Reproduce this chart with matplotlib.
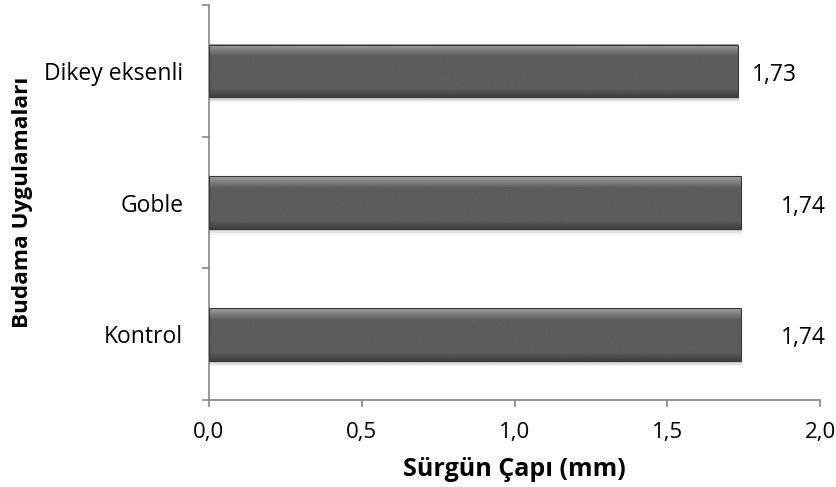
import numpy as np
import matplotlib.pyplot as plt
from matplotlib.colors import LinearSegmentedColormap

plt.rcParams['font.family'] = ['Open Sans', 'DejaVu Sans']

kategoriler = ['Kontrol', 'Goble', 'Dikey eksenli']
degerler = [1.74, 1.74, 1.73]
etiketler = ['1,74', '1,74', '1,73']
etiket_kayma = [40, 40, 14]  # piksel, etiketlerin çubuk ucundan uzaklığı
xticks = [0.0, 0.5, 1.0, 1.5, 2.0]
xtick_labels = ['0,0', '0,5', '1,0', '1,5', '2,0']

fig = plt.figure(figsize=(8.37, 4.87), dpi=100)
ax = fig.add_axes([0.2497, 0.1786, 0.7300, 0.8111])

h = 0.4
y = np.arange(len(kategoriler))

# dikey gradyan: üstte açık kenar, ortada koyu gri, altta daha koyu
grad = np.concatenate([np.linspace(0.62, 0.40, 10), np.full(30, 0.36),
                       np.linspace(0.36, 0.25, 8)])[:, None]
cmap = LinearSegmentedColormap.from_list('g', ['#000000', '#ffffff'])

for yi, v in zip(y, degerler):
    # gölge
    for k, a in enumerate([0.10, 0.07, 0.04]):
        ax.barh(yi - 0.02 - k * 0.012, v + 0.004, height=h, color='#000000',
                alpha=a, zorder=1, linewidth=0)
    ax.imshow(grad, cmap=cmap, vmin=0, vmax=1, aspect='auto',
              extent=(0, v, yi - h / 2, yi + h / 2), zorder=2,
              interpolation='bilinear')
    ax.barh(yi, v, height=h, facecolor='none', edgecolor='#3a3a3a',
            linewidth=0.8, zorder=3)

for yi, v, t, dx in zip(y, degerler, etiketler, etiket_kayma):
    ax.annotate(t, (v, yi), xytext=(dx, -4), textcoords='offset pixels',
                va='center', ha='left', fontsize=16.5, color='#000000')

ax.set_xlim(0, 2.0)
ax.set_ylim(-0.5, 2.5)
ax.set_xticks(xticks)
ax.set_xticklabels(xtick_labels)
ax.set_yticks(y)
ax.set_yticklabels(kategoriler)
ax.set_yticks([-0.5, 0.5, 1.5, 2.5], minor=True)

for s in ['top', 'right']:
    ax.spines[s].set_visible(False)
for s in ['left', 'bottom']:
    ax.spines[s].set_color('#868686')
    ax.spines[s].set_linewidth(1.2)

ax.tick_params(axis='y', which='major', length=0, labelsize=16.5, pad=18.5)
ax.tick_params(axis='y', which='minor', length=5, color='#868686', width=1.2)
ax.tick_params(axis='x', length=5, color='#868686', width=1.2,
               labelsize=16, pad=11)

ax.set_xlabel('Sürgün Çapı (mm)', fontsize=18, fontweight='bold', labelpad=10)
ax.set_ylabel('Budama Uygulamaları', fontsize=16.2, fontweight='bold',
              labelpad=8)

fig.savefig('out.png', dpi=100)
